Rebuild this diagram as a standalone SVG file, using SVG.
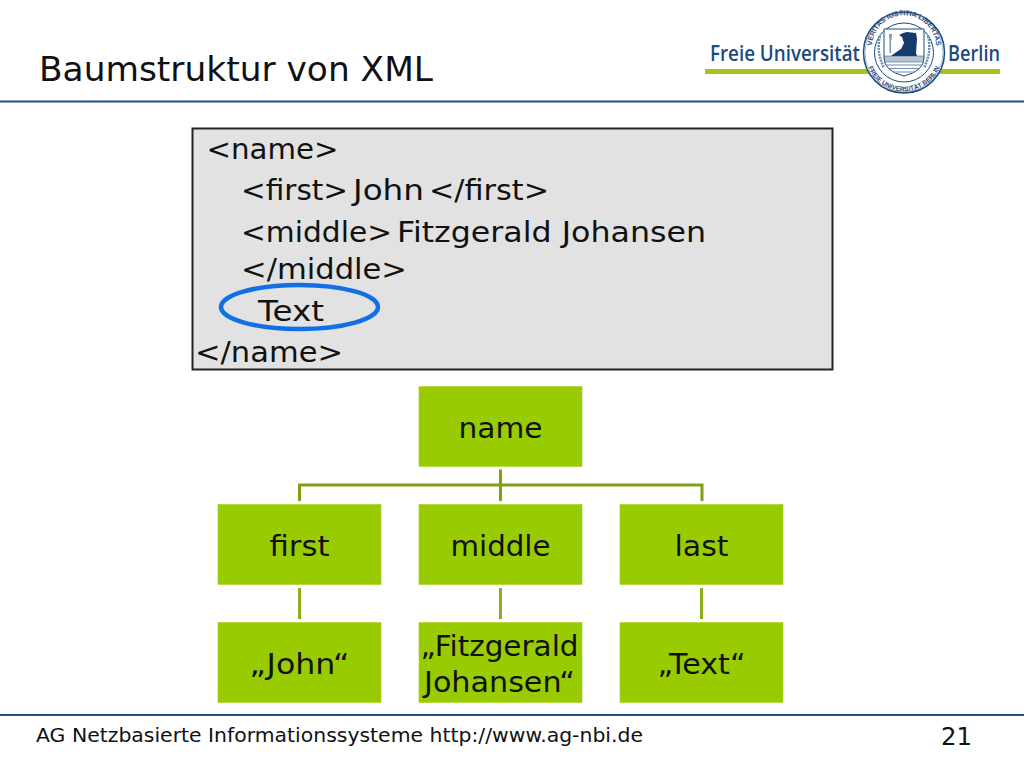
<svg xmlns="http://www.w3.org/2000/svg" width="1024" height="768" viewBox="0 0 1024 768">
<style>
text{font-family:"DejaVu Sans",Verdana,sans-serif;fill:#111}
.code{font-size:29px}
.node rect{fill:#9c0;stroke:#a6cf1e;stroke-width:.6}
.node text{font-size:29px;text-anchor:middle}
.rule{fill:#1f4e79}
.conn{fill:none;stroke:#7f9f14;stroke-width:3}
.conn2{fill:none;stroke:#8dae18;stroke-width:3}
.logo{font-family:"Open Sans","Liberation Sans",sans-serif;fill:#1d4a7c;font-size:22px;font-weight:600}
.seal{font-family:"Liberation Sans",sans-serif;fill:#1d4a7c;font-weight:bold}
</style>
<defs>
<path id="sealTop" d="M875 60.800A32 32 0 1 1 933 60.800"/>
<path id="sealBottom" d="M866.800 62.500A38.500 38.500 0 0 0 941.200 62.500"/>
</defs>
<rect width="1024" height="768" fill="#fff"/>
<text id="title" x="39" y="81" font-size="33" textLength="394" lengthAdjust="spacingAndGlyphs">Baumstruktur von XML</text>
<rect class="rule" x="0" y="100.500" width="1024" height="2"/>
<rect class="rule" x="0" y="714" width="1024" height="2"/>
<g id="logo">
<rect x="705" y="69" width="295" height="5" fill="#a5c41a"/>
<text class="logo" x="710" y="61" textLength="150" lengthAdjust="spacingAndGlyphs">Freie Universität</text>
<text class="logo" x="948" y="61" textLength="52" lengthAdjust="spacingAndGlyphs">Berlin</text>
<circle cx="904" cy="52.500" r="40.500" fill="#fff" stroke="#1d4a7c" stroke-width="1.500"/>
<circle cx="904" cy="52.500" r="39" fill="none" stroke="#6f8caa" stroke-width=".6"/>
<circle cx="904" cy="52.500" r="29.500" fill="#fff" stroke="#1d4a7c" stroke-width="1"/>
<text class="seal" font-size="7"><textPath href="#sealTop" startOffset="50%" text-anchor="middle">VERITAS IUSTITIA LIBERTAS</textPath></text>
<text class="seal" font-size="6.500"><textPath href="#sealBottom" startOffset="50%" text-anchor="middle">FREIE UNIVERSITÄT BERLIN</textPath></text>
<path d="M880 36Q876 52 884 68M928 36Q932 52 924 68" fill="none" stroke="#6f8caa" stroke-width="2.500" stroke-dasharray="2 1"/>
<path d="M884 29H924V58Q924 71 904 76Q884 71 884 58Z" fill="#fff" stroke="#1d4a7c" stroke-width="1"/>
<path d="M889 34h3l-.5 6h-2zM889.500 40h1.500v13h-1.500z" fill="#7f96b0"/>
<path d="M903 33l4-1 9 1 1 6-1 14 1 3H891l4-3 6-4 3-6-2-6-3-2z" fill="#143c6b"/>
<path d="M884.500 56H923.500V62H884.500z" fill="#b8c4d2" stroke="#1d4a7c" stroke-width=".5"/>
<path d="M886 65H922M888 68.500H920M893 72H915" stroke="#6f8caa" stroke-width="1.200" fill="none"/>
</g>
<g id="code">
<rect x="192.500" y="128.500" width="640" height="241" fill="#e2e2e2" stroke="#222" stroke-width="2"/>
<text class="code" x="206.500" y="158.500" textLength="132" lengthAdjust="spacingAndGlyphs">&lt;name&gt;</text>
<text class="code" y="200"><tspan x="241" textLength="107" lengthAdjust="spacingAndGlyphs">&lt;first&gt;</tspan><tspan x="353" textLength="71" lengthAdjust="spacingAndGlyphs">John</tspan><tspan x="429" textLength="120" lengthAdjust="spacingAndGlyphs">&lt;/first&gt;</tspan></text>
<text class="code" y="242"><tspan x="241" textLength="151" lengthAdjust="spacingAndGlyphs">&lt;middle&gt;</tspan><tspan x="397" textLength="309" lengthAdjust="spacingAndGlyphs">Fitzgerald Johansen</tspan></text>
<text class="code" x="241" y="279" textLength="166" lengthAdjust="spacingAndGlyphs">&lt;/middle&gt;</text>
<text class="code" x="258" y="321" textLength="66" lengthAdjust="spacingAndGlyphs">Text</text>
<text class="code" x="195" y="362" textLength="148" lengthAdjust="spacingAndGlyphs">&lt;/name&gt;</text>
<ellipse id="highlight" cx="299.500" cy="307" rx="78.500" ry="22" fill="none" stroke="#1270e6" stroke-width="4.500"/>
</g>
<g id="connectors">
<path class="conn" d="M500.500 469.500V501M299.500 501V485H702V501"/>
<path class="conn2" d="M299.500 588V619M500.500 588V619M701.500 588V619"/>
</g>
<g id="n-name" class="node"><rect x="419" y="386.500" width="163" height="80"/><text x="500.500" y="438" textLength="84" lengthAdjust="spacingAndGlyphs">name</text></g>
<g id="n-first" class="node"><rect x="218" y="504.500" width="163" height="80"/><text x="299.500" y="556" textLength="60" lengthAdjust="spacingAndGlyphs">first</text></g>
<g id="n-middle" class="node"><rect x="419" y="504.500" width="163" height="80"/><text x="500.500" y="556" textLength="100" lengthAdjust="spacingAndGlyphs">middle</text></g>
<g id="n-last" class="node"><rect x="620" y="504.500" width="163" height="80"/><text x="701.500" y="556" textLength="54" lengthAdjust="spacingAndGlyphs">last</text></g>
<g id="n-john" class="node"><rect x="218" y="622.500" width="163" height="80"/><text x="299.500" y="674" textLength="100" lengthAdjust="spacingAndGlyphs">„John“</text></g>
<g id="n-fitz" class="node"><rect x="419" y="622.500" width="163" height="80"/><text x="499.500" y="656" textLength="158" lengthAdjust="spacingAndGlyphs">„Fitzgerald</text><text x="499.500" y="692" textLength="151" lengthAdjust="spacingAndGlyphs">Johansen“</text></g>
<g id="n-text" class="node"><rect x="620" y="622.500" width="163" height="80"/><text x="701.500" y="674" textLength="88" lengthAdjust="spacingAndGlyphs">„Text“</text></g>
<text id="footer" x="36" y="742" font-size="20" textLength="607" lengthAdjust="spacingAndGlyphs">AG Netzbasierte Informationssysteme http://www.ag-nbi.de</text>
<text id="page" x="941" y="745" font-size="25" textLength="31" lengthAdjust="spacingAndGlyphs">21</text>
</svg>
